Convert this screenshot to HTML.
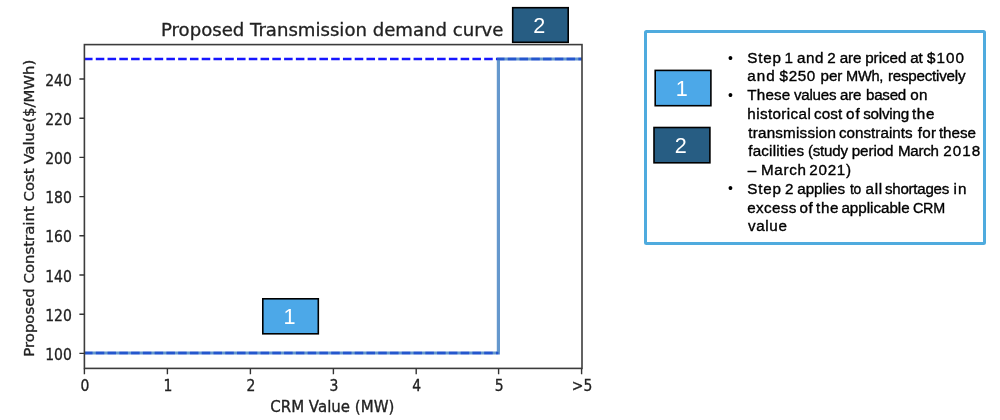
<!DOCTYPE html>
<html lang="en">
<head>
<meta charset="utf-8">
<title>Proposed Transmission demand curve</title>
<style>
html,body{margin:0;padding:0;background:#fff;}
body{width:1000px;height:420px;position:relative;overflow:hidden;filter:blur(0.6px);font-family:"Liberation Sans",sans-serif;}
#chart{position:absolute;left:0;top:0;width:1000px;height:420px;}
.dv{font-family:"DejaVu Sans","Liberation Sans",sans-serif;fill:#222;stroke:#222;stroke-width:0.32px;}
.ln{position:absolute;left:0;width:1000px;height:18px;line-height:18px;font-size:15.2px;color:#000;-webkit-text-stroke:0.36px #000;white-space:nowrap;}
.ln span{position:absolute;top:0;white-space:nowrap;transform-origin:0 50%;}
.bul{position:absolute;white-space:nowrap;color:#000;font-size:14px;line-height:18px;height:18px;left:728px;}
.num{font-family:"Liberation Sans",sans-serif;font-size:21.6px;fill:#fff;text-anchor:middle;}
</style>
</head>
<body>
<svg id="chart" width="1000" height="420" viewBox="0 0 1000 420">
  <!-- dashed reference lines -->
  <g fill="none" stroke="#1616ff" stroke-width="2.7" stroke-dasharray="8.55 3.22">
    <path d="M84 59 H582"/>
    <path d="M84 353 H498.5"/>
  </g>
  <!-- step curve -->
  <path d="M84.4 353 H498.4 V59 H582" fill="none" stroke="#2a70ba" stroke-opacity="0.72" stroke-width="3.2" stroke-linejoin="miter"/>
  <!-- axes frame -->
  <rect x="84.4" y="44.6" width="497.6" height="323.8" fill="none" stroke="#3c3c3c" stroke-width="1.6"/>
  <!-- ticks -->
  <g stroke="#333" stroke-width="1.4" fill="none">
    <path d="M84.4 368.4v5.9M167.4 368.4v5.9M250.4 368.4v5.9M333.4 368.4v5.9M416.2 368.4v5.9M498.6 368.4v5.9M581.6 368.4v5.9"/>
    <path d="M84.4 353.4h-5M84.4 314.2h-5M84.4 275.0h-5M84.4 235.8h-5M84.4 196.6h-5M84.4 157.4h-5M84.4 118.2h-5M84.4 79.0h-5"/>
  </g>
  <!-- tick labels -->
  <g class="dv" font-size="15" text-anchor="middle">
    <text transform="translate(84.9 391.3) scale(0.93 1)">0</text>
    <text transform="translate(167.9 391.3) scale(0.93 1)">1</text>
    <text transform="translate(250.9 391.3) scale(0.93 1)">2</text>
    <text transform="translate(333.9 391.3) scale(0.93 1)">3</text>
    <text transform="translate(416.7 391.3) scale(0.93 1)">4</text>
    <text transform="translate(499.1 391.3) scale(0.93 1)">5</text>
    <text transform="translate(582.1 391.3) scale(0.93 1)">&gt;5</text>
  </g>
  <g class="dv" font-size="15.8" text-anchor="end">
    <text transform="translate(71.8 359.9) scale(0.885 1)">100</text>
    <text transform="translate(71.8 320.7) scale(0.885 1)">120</text>
    <text transform="translate(71.8 281.5) scale(0.885 1)">140</text>
    <text transform="translate(71.8 242.3) scale(0.885 1)">160</text>
    <text transform="translate(71.8 203.1) scale(0.885 1)">180</text>
    <text transform="translate(71.8 163.9) scale(0.885 1)">200</text>
    <text transform="translate(71.8 124.7) scale(0.885 1)">220</text>
    <text transform="translate(71.8 85.5) scale(0.885 1)">240</text>
  </g>
  <text class="dv" font-size="15" text-anchor="middle" x="332.3" y="412.4">CRM Value (MW)</text>
  <text class="dv" font-size="14.9" text-anchor="middle" transform="translate(34.1 208.2) rotate(-90)">Proposed Constraint Cost Value($/MWh)</text>
  <text class="dv" font-size="18.1" text-anchor="middle" x="332.2" y="36.3">Proposed Transmission demand curve</text>
  <!-- info panel -->
  <rect x="645.5" y="31.5" width="339" height="212" rx="1" fill="#fff" stroke="#4fabde" stroke-width="3"/>
  <!-- step badges -->
  <rect x="262.80" y="298.80" width="55.50" height="35.00" fill="#4ca8e8" stroke="#000" stroke-width="1.6"/>
  <text class="num" x="289.4" y="324.2">1</text>
  <rect x="512.70" y="7.70" width="55.50" height="34.60" fill="#275d83" stroke="#000" stroke-width="1.6"/>
  <text class="num" x="539.2" y="32.9">2</text>
  <rect x="655.20" y="70.40" width="55.70" height="35.30" fill="#4ca8e8" stroke="#000" stroke-width="1.6"/>
  <text class="num" x="681.8" y="96.0">1</text>
  <rect x="654.00" y="127.50" width="55.90" height="35.30" fill="#275d83" stroke="#000" stroke-width="1.6"/>
  <text class="num" x="680.8" y="153.1">2</text>
</svg>

<div class="bul" style="top:49.2px;">•</div>
<div class="ln" style="top:49.3px;"><span style="left:747.30px;letter-spacing:0.78px;">Step</span> <span style="left:784.38px;">1</span> <span style="left:797.05px;letter-spacing:0.50px;">and</span> <span style="left:827.25px;">2</span> <span style="left:839.80px;letter-spacing:-0.13px;">are</span> <span style="left:865.15px;letter-spacing:-0.00px;">priced</span> <span style="left:910.15px;letter-spacing:-0.05px;">at</span> <span style="left:927.05px;letter-spacing:1.05px;">$100</span></div>
<div class="ln" style="top:67.3px;"><span style="left:747.30px;letter-spacing:1.00px;">and</span> <span style="left:779.55px;letter-spacing:0.65px;">$250</span> <span style="left:820.55px;letter-spacing:-0.05px;">per</span> <span style="left:845.75px;letter-spacing:-0.25px;transform:scaleX(0.962);">MWh,</span> <span style="left:887.95px;letter-spacing:-0.24px;">respectively</span></div>
<div class="bul" style="top:85.5px;">•</div>
<div class="ln" style="top:86.0px;"><span style="left:747.30px;letter-spacing:0.20px;">These</span> <span style="left:793.55px;letter-spacing:-0.25px;transform:scaleX(0.996);">values</span> <span style="left:840.15px;letter-spacing:-0.25px;transform:scaleX(0.995);">are</span> <span style="left:866.45px;letter-spacing:-0.25px;transform:scaleX(0.997);">based</span> <span style="left:910.15px;letter-spacing:0.35px;">on</span></div>
<div class="ln" style="top:105.0px;"><span style="left:747.35px;letter-spacing:0.39px;">historical</span> <span style="left:813.95px;letter-spacing:0.12px;">cost</span> <span style="left:846.05px;letter-spacing:0.95px;">of</span> <span style="left:863.15px;letter-spacing:-0.22px;">solving</span> <span style="left:911.95px;letter-spacing:0.67px;">the</span></div>
<div class="ln" style="top:123.5px;"><span style="left:748.25px;letter-spacing:0.22px;">transmission</span> <span style="left:838.95px;letter-spacing:0.02px;">constraints</span> <span style="left:917.65px;letter-spacing:0.37px;">for</span> <span style="left:938.95px;letter-spacing:-0.05px;">these</span></div>
<div class="ln" style="top:141.7px;"><span style="left:748.25px;letter-spacing:0.19px;">facilities</span> <span style="left:808.30px;letter-spacing:-0.25px;transform:scaleX(0.996);">(study</span> <span style="left:851.75px;letter-spacing:-0.09px;">period</span> <span style="left:897.95px;letter-spacing:-0.25px;transform:scaleX(0.996);">March</span> <span style="left:943.30px;letter-spacing:1.07px;">2018</span></div>
<div class="ln" style="top:160.5px;"><span style="left:747.67px;">–</span> <span style="left:761.05px;letter-spacing:0.66px;">March</span> <span style="left:809.30px;letter-spacing:0.74px;">2021)</span></div>
<div class="bul" style="top:179.2px;">•</div>
<div class="ln" style="top:179.5px;"><span style="left:747.30px;letter-spacing:0.78px;">Step</span> <span style="left:785.05px;">2</span> <span style="left:797.30px;letter-spacing:-0.06px;">applies</span> <span style="left:850.15px;letter-spacing:-0.25px;transform:scaleX(0.911);">to</span> <span style="left:865.55px;letter-spacing:0.66px;">all</span> <span style="left:885.15px;letter-spacing:-0.25px;transform:scaleX(0.994);">shortages</span> <span style="left:953.55px;letter-spacing:1.13px;">in</span></div>
<div class="ln" style="top:198.5px;"><span style="left:747.30px;letter-spacing:0.35px;">excess</span> <span style="left:799.55px;letter-spacing:0.55px;">of</span> <span style="left:816.05px;letter-spacing:0.62px;">the</span> <span style="left:841.45px;letter-spacing:-0.02px;">applicable</span> <span style="left:912.65px;letter-spacing:-0.25px;transform:scaleX(0.944);">CRM</span></div>
<div class="ln" style="top:216.7px;"><span style="left:747.95px;letter-spacing:0.66px;">value</span></div>
</body>
</html>
